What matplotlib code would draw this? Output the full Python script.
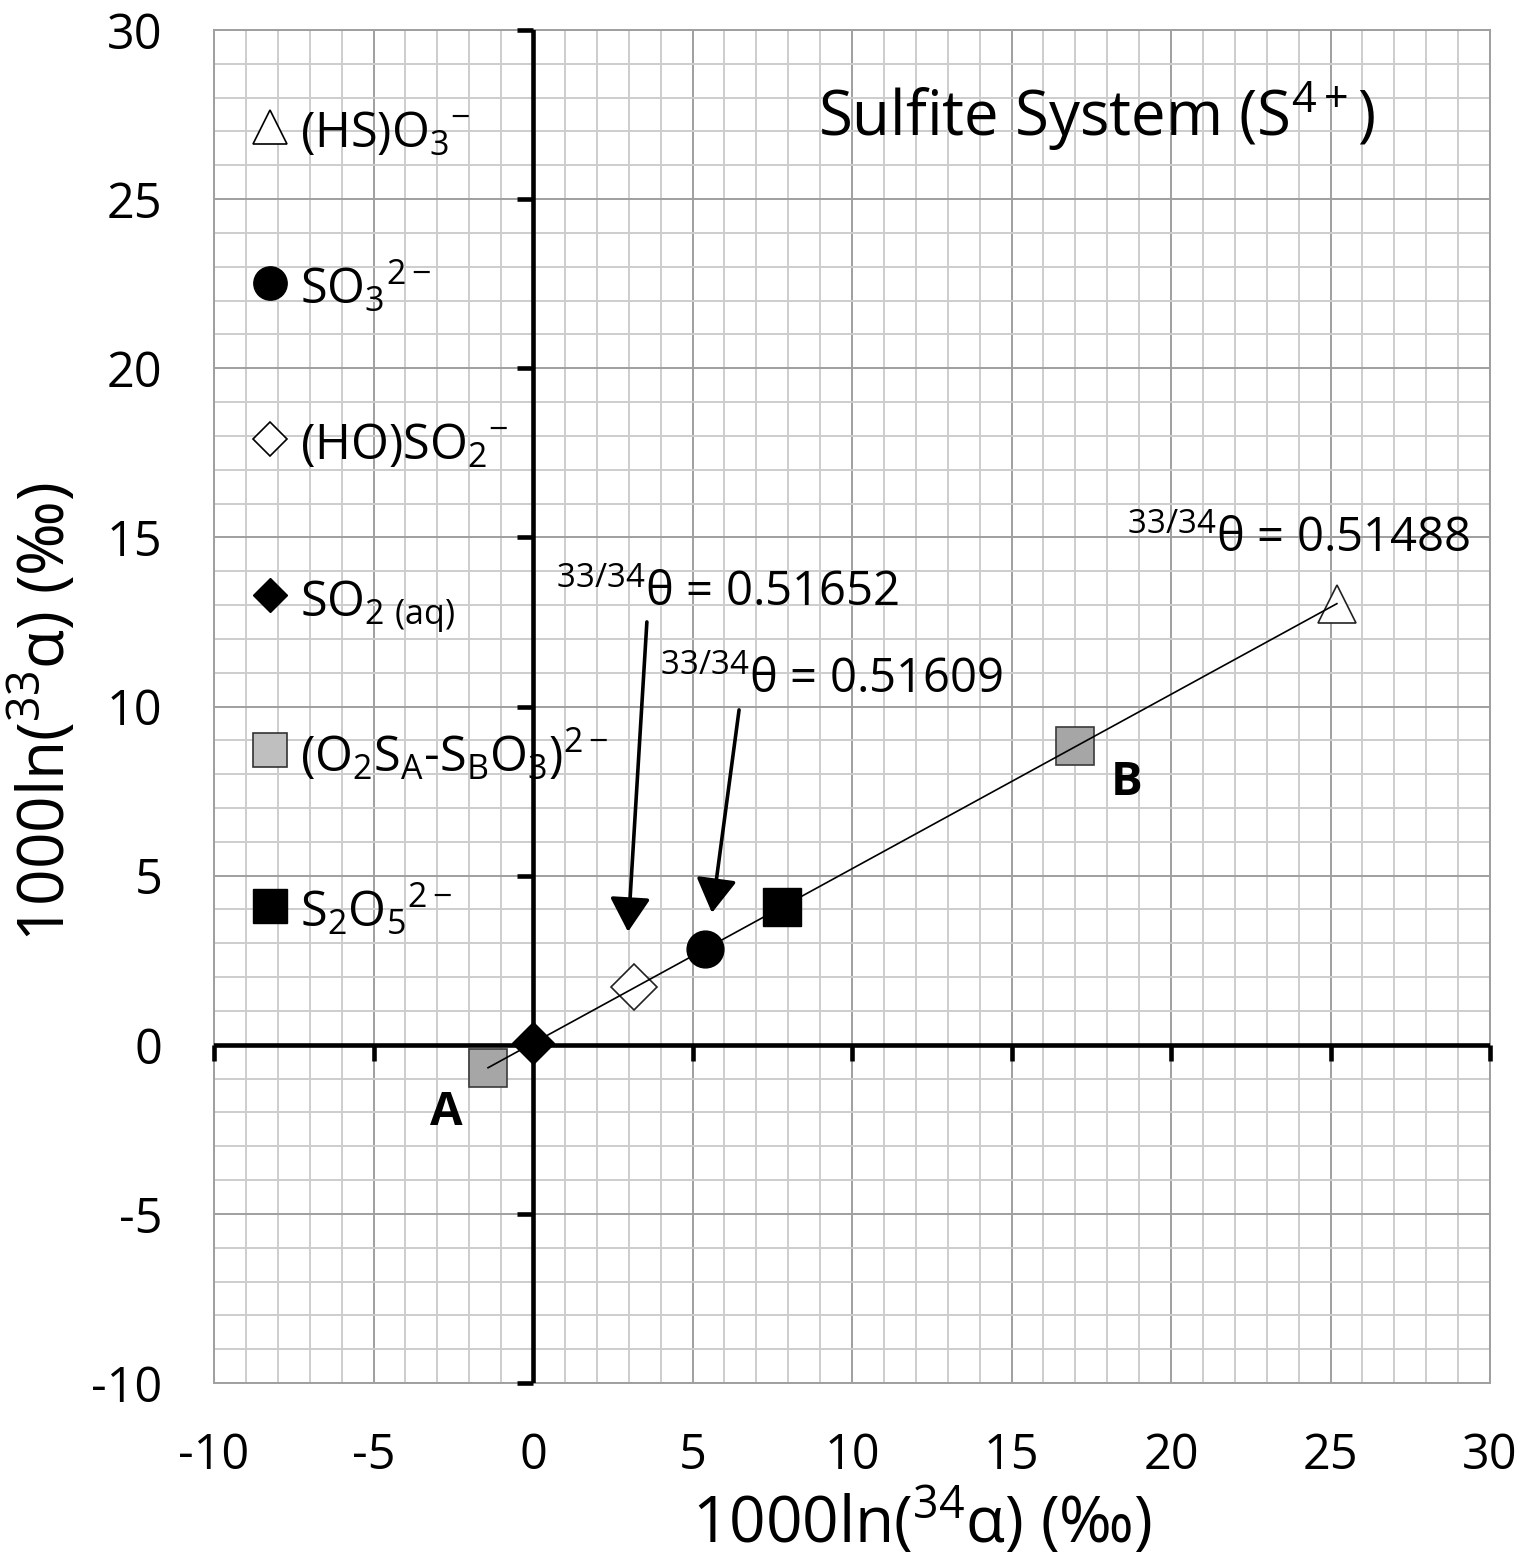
import matplotlib
matplotlib.use('Agg')
import matplotlib.pyplot as plt
from matplotlib.ticker import MultipleLocator
import numpy as np

FONT = 'Open Sans'
plt.rcParams['font.family'] = [FONT, 'DejaVu Sans']
plt.rcParams['mathtext.fontset'] = 'custom'
plt.rcParams['mathtext.rm'] = FONT
plt.rcParams['mathtext.it'] = FONT + ':italic'
plt.rcParams['mathtext.bf'] = FONT + ':bold'
plt.rcParams['mathtext.default'] = 'regular'

# ---------------- data ----------------
hso3_x, hso3_y = [25.20], [13.04]          # (HS)O3-  (open triangle)
so3_x, so3_y = [5.39], [2.84]              # SO3 2-   (black circle)
hoso2_x, hoso2_y = [3.17], [1.71]          # (HO)SO2- (open diamond)
so2_x, so2_y = [0.0], [0.05]               # SO2(aq)  (black diamond)
o2s_x, o2s_y = [-1.41, 16.99], [-0.68, 8.84]  # (O2SA-SBO3)2- sites A, B (grey squares)
s2o5_x, s2o5_y = [7.81], [4.08]            # S2O5 2-  (black square)
site_labels = ['A', 'B']

theta_labels = ['0.51652', '0.51609', '0.51488']

x_ticks = [-10, -5, 0, 5, 10, 15, 20, 25, 30]
x_ticklabels = ['-10', '-5', '0', '5', '10', '15', '20', '25', '30']
y_ticks = [-10, -5, 0, 5, 10, 15, 20, 25, 30]
y_ticklabels = ['-10', '-5', '0', '5', '10', '15', '20', '25', '30']

legend_labels = [r'(HS)$O_3{}^{-}$', r'$SO_3{}^{2-}$', r'(HO)$SO_2{}^{-}$',
                 r'$SO_{2\ (aq)}$', r'($O_2S_A$-$S_BO_3$)$^{2-}$', r'$S_2O_5{}^{2-}$']

# ---------------- figure ----------------
W, H = 1522, 1562
fig = plt.figure(figsize=(W / 100, H / 100), dpi=100)
ax = fig.add_axes([214 / W, 1 - 1383 / H, (1490 - 214) / W, (1383 - 30) / H])
ax.set_xlim(-10, 30)
ax.set_ylim(-10, 30)

ax.xaxis.set_major_locator(MultipleLocator(5))
ax.yaxis.set_major_locator(MultipleLocator(5))
ax.xaxis.set_minor_locator(MultipleLocator(1))
ax.yaxis.set_minor_locator(MultipleLocator(1))
ax.set_xticks(x_ticks, x_ticklabels)
ax.set_yticks(y_ticks, y_ticklabels)
ax.tick_params(which='both', length=0)
ax.tick_params(axis='x', labelsize=35, pad=35)
ax.tick_params(axis='y', labelsize=35, pad=37)
ax.grid(which='minor', color='#cdcdcd', lw=1.4)
ax.grid(which='major', color='#9f9f9f', lw=1.4)
ax.set_axisbelow(True)
for s in ax.spines.values():
    s.set_color('#9f9f9f')
    s.set_linewidth(1.4)

# black axis lines through origin with tick marks
ax.axhline(0, color='k', lw=3.3, zorder=3)
ax.axvline(0, color='k', lw=3.3, zorder=3)
ax.plot(x_ticks, np.zeros(len(x_ticks)), ls='none', marker=3, ms=11.5,
        mew=3.3, color='k', clip_on=False, zorder=3)
ax.plot(np.zeros(len(y_ticks)), y_ticks, ls='none', marker=0, ms=11.5,
        mew=3.3, color='k', clip_on=False, zorder=3)

# data markers
ax.plot(o2s_x, o2s_y, ls='none', marker='s', ms=27, mfc='#a6a6a6', mec='#3a3a3a', mew=1.2, zorder=4)
ax.plot(so2_x, so2_y, ls='none', marker='D', ms=21.5, mfc='k', mec='k', mew=1, zorder=4)
ax.plot(hoso2_x, hoso2_y, ls='none', marker='D', ms=23, mfc='white', mec='#222222', mew=1.2, zorder=4)
ax.plot(so3_x, so3_y, ls='none', marker='o', ms=26.5, mfc='k', mec='k', mew=1, zorder=4)
ax.plot(s2o5_x, s2o5_y, ls='none', marker='s', ms=28, mfc='k', mec='k', mew=1, zorder=4)
ax.plot(hso3_x, hso3_y, ls='none', marker='^', ms=27, mfc='white', mec='#222222', mew=1.2, zorder=4)

# regression line from site A to (HS)O3-
ax.plot([o2s_x[0], hso3_x[0]], [o2s_y[0], hso3_y[0]], color='k', lw=1.2, zorder=5)

# site labels
ax.text(-2.73, -2.36, site_labels[0], fontsize=34, fontweight='bold', ha='center', va='baseline', zorder=6)
ax.text(18.62, 7.39, site_labels[1], fontsize=34, fontweight='bold', ha='center', va='baseline', zorder=6)

# theta annotations
ax.text(0.72, 12.98, r'$^{33/34}$θ = ' + theta_labels[0], fontsize=34, ha='left', va='baseline', zorder=6)
ax.text(3.98, 10.40, r'$^{33/34}$θ = ' + theta_labels[1], fontsize=34, ha='left', va='baseline', zorder=6)
ax.text(18.62, 14.57, r'$^{33/34}$θ = ' + theta_labels[2], fontsize=34, ha='left', va='baseline', zorder=6)

arrow_kw = dict(arrowstyle='-|>,head_length=21,head_width=12.5', color='k', lw=2.6,
                mutation_scale=1, shrinkA=0, shrinkB=0)
ax.annotate('', xy=(2.98, 3.34), xytext=(3.57, 12.50), arrowprops=arrow_kw, zorder=6)
ax.annotate('', xy=(5.61, 3.90), xytext=(6.46, 9.90), arrowprops=arrow_kw, zorder=6)

# title
ax.text(8.93, 26.87, r'Sulfite System (S$^{4+}$)', fontsize=44.5, ha='left', va='baseline', zorder=6)

# legend (manual)
leg_markers = [dict(marker='^', ms=24, mfc='white', mec='k', mew=1.2),
               dict(marker='o', ms=24, mfc='k', mec='k', mew=1),
               dict(marker='D', ms=17, mfc='white', mec='k', mew=1.2),
               dict(marker='D', ms=17, mfc='k', mec='k', mew=1),
               dict(marker='s', ms=24, mfc='#bfbfbf', mec='#333333', mew=1.2),
               dict(marker='s', ms=24, mfc='k', mec='k', mew=1)]
row0, drow = 0.9283, 0.1152
for i, (lab, mk) in enumerate(zip(legend_labels, leg_markers)):
    yy = row0 - i * drow
    ax.plot([0.0439], [yy], ls='none', transform=ax.transAxes, zorder=6, **mk)
    ax.text(0.0674, yy - 0.0155, lab, fontsize=35, ha='left', va='baseline',
            transform=ax.transAxes, zorder=6)

# axis labels
fig.text(922 / W, 1 - 1542 / H, r'1000ln($^{34}$α) (‰)', fontsize=46, ha='center', va='baseline')
fig.text(64 / W, 1 - 712 / H, r'1000ln($^{33}$α) (‰)', fontsize=46, ha='center', va='baseline',
         rotation=90, rotation_mode='anchor')

fig.savefig('out.png', dpi=100)
